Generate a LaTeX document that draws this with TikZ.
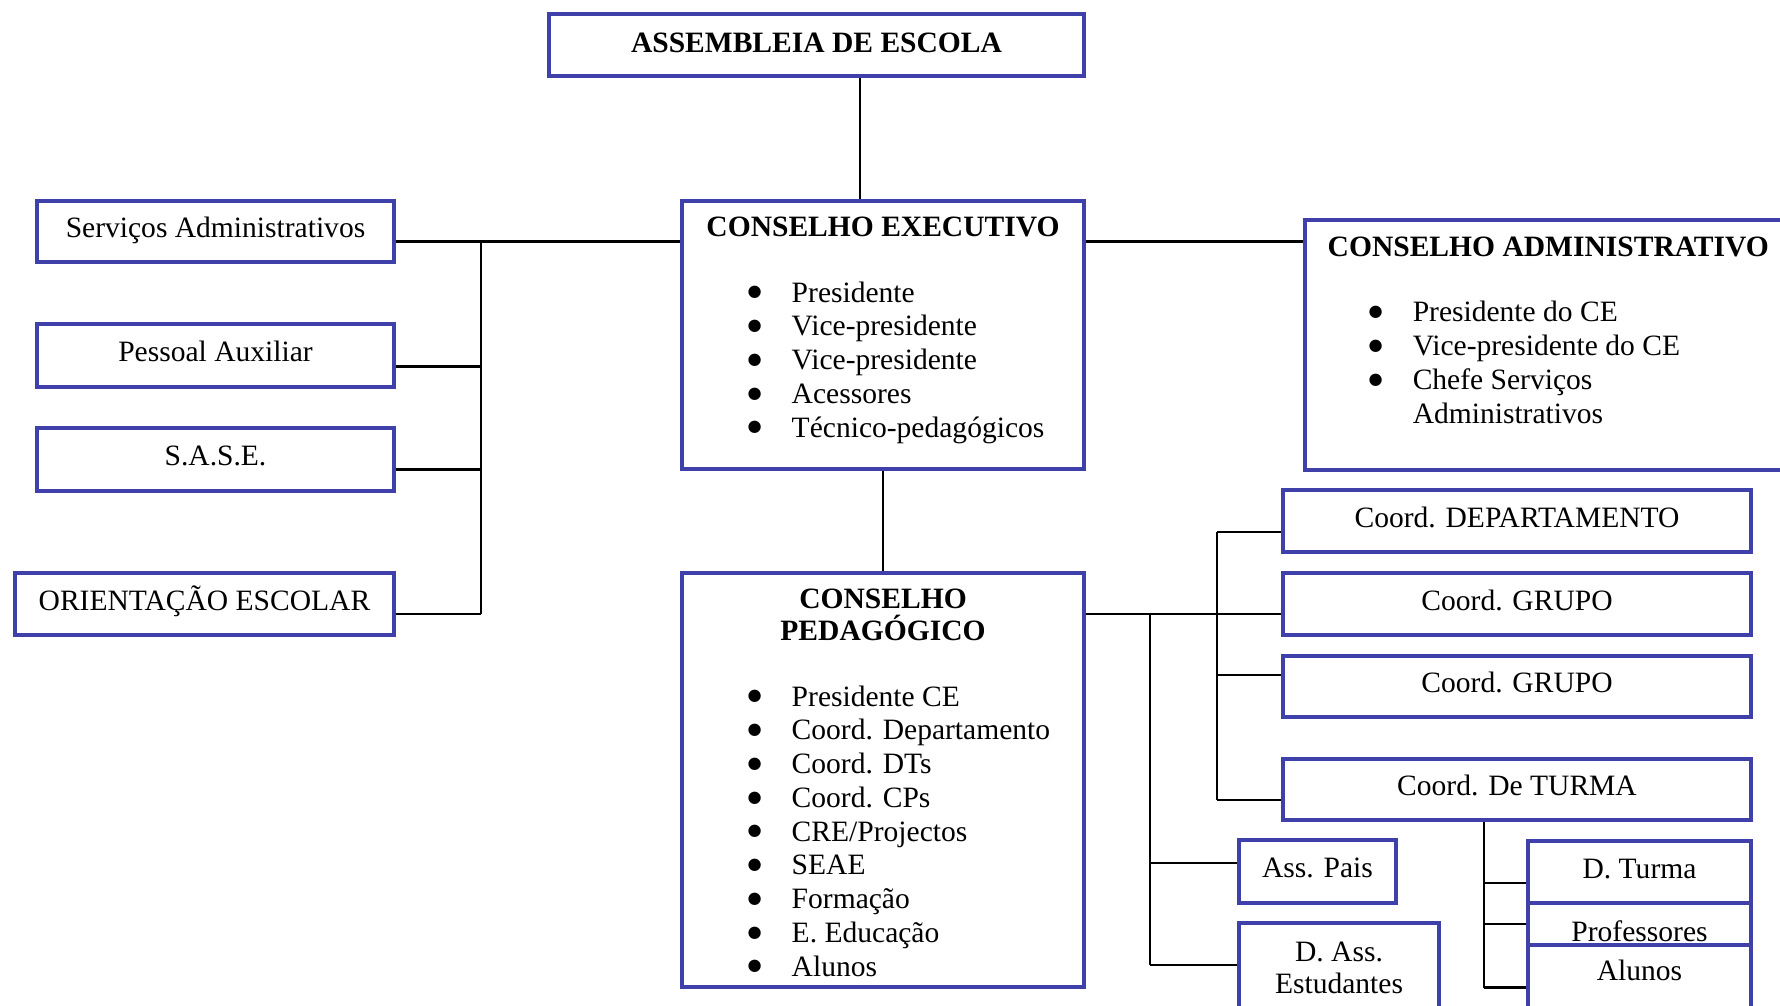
\documentclass[tikz,border=0pt]{standalone}
\usepackage{fontspec}
\setmainfont{Liberation Serif}
\newfontfamily\simbolos{DejaVu Sans}
\definecolor{azulborda}{RGB}{64,64,170}
\newcommand{\marca}{\makebox[0.44cm][l]{\raisebox{1.5pt}{\simbolos\fontsize{4.6}{0}\selectfont ●}}}
\tikzset{caixa/.style={draw=azulborda, line width=1pt, rectangle, inner sep=0pt, align=center, text height=5.6pt, text depth=2.1pt, font=\fontsize{8.4}{9.6}\selectfont},
	titulo/.style={inner sep=0pt, font=\bfseries\fontsize{8.4}{9.6}\selectfont},
	rotulo/.style={inner sep=0pt, align=center, font=\fontsize{8.4}{8.9}\selectfont},
	lista/.style={anchor=west, inner sep=0pt, align=left, font=\fontsize{8.4}{9.6}\selectfont},
	liga/.style={line width=0.6pt, black}}

\begin{document}
\begin{tikzpicture}[x=0.01cm, y=-0.01cm]
			\useasboundingbox (0,0) rectangle (1780,1005);
			\fill [white] (0,0) rectangle (1780,1005);
			\clip (0,0) rectangle (1780,1005);

			% centro
			\node [caixa, text depth=1.2pt, minimum width=5.35cm, minimum height=0.62cm] (assembleia) at (816.5,45) {\bfseries ASSEMBLEIA DE ESCOLA};
			\node [caixa, minimum width=4.02cm, minimum height=2.68cm] (ce) at (883,335) {};
			\node [titulo] (ceTitulo) at (883,227) {CONSELHO EXECUTIVO};
			\node [lista] (ceLista) at (747,362.5) {\marca Presidente\\ \marca Vice-presidente\\ \marca Vice-presidente\\ \marca Acessores\\ \marca Técnico-pedagógicos};

			\node [caixa, minimum width=4.02cm, minimum height=4.14cm] (cp) at (883,780) {};
			\node [titulo, align=center, font=\bfseries\fontsize{8.4}{9.1}\selectfont] (cpTitulo) at (883,614.5) {CONSELHO\\PEDAGÓGICO};
			\node [lista] (cpLista) at (747,831) {\marca Presidente CE\\ \marca Coord. Departamento\\ \marca Coord. DTs\\ \marca Coord. CPs\\ \marca CRE/Projectos\\ \marca SEAE\\ \marca Formação\\ \marca E. Educação\\ \marca Alunos};

			\node [caixa, minimum width=4.95cm, minimum height=2.50cm] (ca) at (1552.5,345) {};
			\node [titulo, anchor=west] (caTitulo) at (1327,247) {CONSELHO ADMINISTRATIVO};
			\node [lista] (caLista) at (1368,362.5) {\marca Presidente do CE\\ \marca Vice-presidente do CE\\ \marca Chefe Serviços\\ \makebox[0.44cm]{}Administrativos};

			% esquerda
			\node [caixa, minimum width=3.57cm, minimum height=0.61cm] (servadm) at (215.5,231.5) {Serviços Administrativos};
			\node [caixa, minimum width=3.57cm, minimum height=0.63cm] (pessoal) at (215.5,355.5) {Pessoal Auxiliar};
			\node [caixa, minimum width=3.57cm, minimum height=0.63cm] (sase) at (215.5,459.5) {S.A.S.E.};
			\node [caixa, minimum width=3.79cm, minimum height=0.62cm] (orientacao) at (204.5,604) {ORIENTAÇÃO ESCOLAR};

			% direita
			\node [caixa, minimum width=4.68cm, minimum height=0.62cm] (cdep) at (1517,521) {Coord. DEPARTAMENTO};
			\node [caixa, minimum width=4.68cm, minimum height=0.62cm] (cgrupoA) at (1517,604) {Coord. GRUPO};
			\node [caixa, minimum width=4.68cm, minimum height=0.61cm] (cgrupoB) at (1517,686.5) {Coord. GRUPO};
			\node [caixa, minimum width=4.68cm, minimum height=0.61cm] (cturma) at (1517,789.5) {Coord. De TURMA};
			\node [caixa, minimum width=1.57cm, minimum height=0.63cm] (asspais) at (1317.5,871.5) {Ass. Pais};
			\node [caixa, minimum width=2.00cm, minimum height=1.07cm] (dae) at (1339,976.5) {};
			\node [rotulo] (daeTexto) at (1339,968) {D. Ass.\\Estudantes};
			\node [caixa, minimum width=2.23cm, minimum height=0.62cm] (dturma) at (1639.5,872) {D. Turma};
			\node [caixa, minimum width=2.23cm, minimum height=0.42cm] (profs) at (1639.5,924) {};
			\node [rotulo, anchor=base] (profsTexto) at (1639.5,941) {Professores};
			\node [caixa, minimum width=2.23cm, minimum height=0.85cm] (alunos) at (1639.5,987.5) {};
			\node [rotulo] (alunosTexto) at (1639.5,970) {Alunos};

			% pontos de ligacao
			\coordinate (bTopo) at (860,0);
			\coordinate (bL) at (481,0);
			\coordinate (bR1) at (1150,0);
			\coordinate (bR2) at (1217,0);
			\coordinate (bR3) at (1484,0);
			\coordinate (pSA) at ([yshift=-0.1cm]servadm.east);
			\coordinate (pPA) at ([yshift=-0.11cm]pessoal.east);
			\coordinate (pSS) at ([yshift=-0.1cm]sase.east);
			\coordinate (pOE) at ([yshift=-0.1cm]orientacao.east);
			\coordinate (pCD) at ([yshift=-0.11cm]cdep.west);
			\coordinate (pGA) at ([yshift=-0.1cm]cgrupoA.west);
			\coordinate (pGB) at ([yshift=0.115cm]cgrupoB.west);
			\coordinate (pCT) at ([yshift=-0.105cm]cturma.west);
			\coordinate (pAP) at ([yshift=0.085cm]asspais.west);
			\coordinate (pDAE) at ([yshift=0.115cm]dae.west);
			\coordinate (pDT) at ([yshift=-0.11cm]dturma.west);
			\coordinate (pPR) at (profs.west);
			\coordinate (pAL) at (alunos.west);

			\draw [liga] (assembleia.south -| bTopo) -- (ce.north -| bTopo);
			\draw [liga] (ce.south) -- (cp.north);
			\draw [liga] (pSA -| ce.east) -- (pSA -| ca.west);

			\draw [liga] (pSA) -- (pSA -| ce.west);
			\draw [liga] (pSA -| bL) -- (pOE -| bL);
			\draw [liga] (pPA) -- (pPA -| bL);
			\draw [liga] (pSS) -- (pSS -| bL);
			\draw [liga] (pOE) -- (pOE -| bL);

			\draw [liga] (pGA -| cp.east) -- (pGA);
			\draw [liga] (pGA -| bR1) -- (pDAE -| bR1);
			\draw [liga] (pAP -| bR1) -- (pAP);
			\draw [liga] (pDAE -| bR1) -- (pDAE);

			\draw [liga] (pCD -| bR2) -- (pCT -| bR2);
			\draw [liga] (pCD -| bR2) -- (pCD);
			\draw [liga] (pGB -| bR2) -- (pGB);
			\draw [liga] (pCT -| bR2) -- (pCT);

			\draw [liga] (cturma.south -| bR3) -- (pAL -| bR3);
			\draw [liga] (pDT -| bR3) -- (pDT);
			\draw [liga] (pPR -| bR3) -- (pPR);
			\draw [liga] (pAL -| bR3) -- (pAL);
\end{tikzpicture}
\end{document}
